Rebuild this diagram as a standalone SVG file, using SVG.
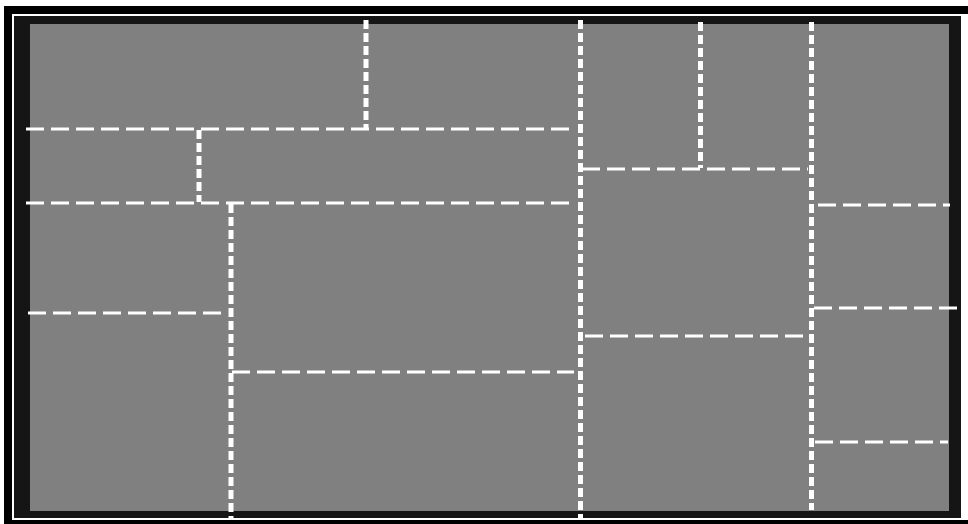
<svg xmlns="http://www.w3.org/2000/svg" width="968" height="524" viewBox="0 0 968 524">
  <defs>
    <filter id="soft" x="-5%" y="-5%" width="110%" height="110%">
      <feGaussianBlur stdDeviation="0.6"/>
    </filter>
    <style>
      .h { stroke: #ffffff; stroke-width: 3; stroke-dasharray: 18 7; fill: none; }
      .v { stroke: #ffffff; stroke-width: 5; stroke-dasharray: 9 4; fill: none; }
    </style>
  </defs>
  <rect x="0" y="0" width="968" height="524" fill="#ffffff"/>
  <rect x="4" y="6" width="970" height="530" fill="#000000"/>
  <rect x="12" y="14" width="960" height="506" fill="#ffffff"/>
  <rect x="14" y="16" width="947" height="502" fill="#151515"/>
  <rect x="30" y="24" width="919" height="487" fill="#808080" filter="url(#soft)"/>
  <g id="walls" filter="url(#soft)">
    <line class="v" x1="366" y1="20" x2="366" y2="128"/>
    <line class="v" x1="580.5" y1="20" x2="580.5" y2="518"/>
    <line class="v" x1="700.5" y1="22" x2="700.5" y2="168"/>
    <line class="v" x1="811.5" y1="22" x2="811.5" y2="510"/>
    <line class="v" x1="199" y1="130" x2="199" y2="202"/>
    <line class="v" x1="231" y1="204" x2="231" y2="518"/>
    <line class="h" x1="26" y1="129" x2="574" y2="129"/>
    <line class="h" x1="26" y1="203" x2="574" y2="203"/>
    <line class="h" x1="28" y1="313" x2="228" y2="313"/>
    <line class="h" x1="232" y1="372" x2="574" y2="372"/>
    <line class="h" x1="582" y1="169" x2="808" y2="169"/>
    <line class="h" x1="585" y1="336" x2="808" y2="336"/>
    <line class="h" x1="818" y1="205" x2="950" y2="205"/>
    <line class="h" x1="814" y1="308" x2="958" y2="308"/>
    <line class="h" x1="815" y1="442" x2="948" y2="442"/>
  </g>
</svg>
